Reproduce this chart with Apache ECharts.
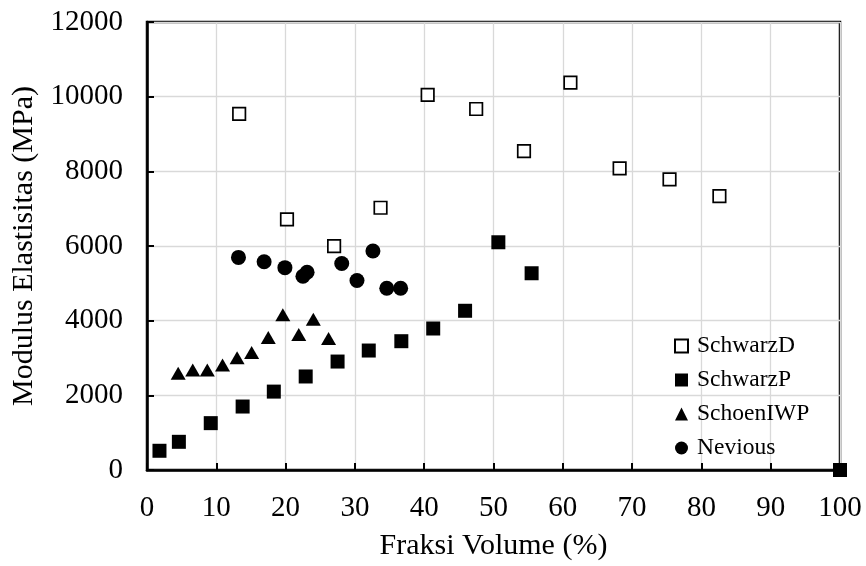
<!DOCTYPE html>
<html>
<head>
<meta charset="utf-8">
<script src="https://cdn.jsdelivr.net/npm/echarts@6/dist/echarts.min.js"></script>
<style>html,body{margin:0;padding:0;background:#fff}#c{width:866px;height:566px}</style>
</head>
<body>
<div id="c"></div>
<script>
var seriesNames = ['SchwarzD', 'SchwarzP', 'SchoenIWP', 'Nevious'];
var xTicks = [0, 10, 20, 30, 40, 50, 60, 70, 80, 90, 100];
var yTicks = [0, 2000, 4000, 6000, 8000, 10000, 12000];

var schwarzDX = [13.3, 20.2, 27.0, 33.7, 40.5, 47.5, 54.4, 61.1, 68.2, 75.4, 82.6];
var schwarzDY = [9540, 6715, 5995, 7025, 10050, 9670, 8540, 10375, 8080, 7785, 7335];

var schwarzPX = [1.8, 4.6, 9.2, 13.8, 18.3, 22.9, 27.5, 32.0, 36.7, 41.3, 45.9, 50.7, 55.5, 100];
var schwarzPY = [515, 755, 1255, 1700, 2100, 2505, 2905, 3200, 3450, 3790, 4265, 6100, 5270, 0];

var schoenX = [4.5, 6.6, 8.7, 10.9, 13.0, 15.1, 17.5, 19.6, 21.9, 24.0, 26.2];
var schoenY = [2590, 2680, 2680, 2810, 3005, 3150, 3550, 4160, 3630, 4040, 3520];

var neviousX = [13.2, 16.9, 19.9, 22.5, 23.1, 28.1, 30.3, 32.6, 34.6, 36.6];
var neviousY = [5695, 5580, 5420, 5190, 5295, 5530, 5075, 5865, 4870, 4870];

function pairs(xs, ys) { return xs.map(function (x, i) { return [x, ys[i]]; }); }

var FONT = '"Liberation Serif", "Times New Roman", serif';
var chart = echarts.init(document.getElementById('c'), null, { renderer: 'canvas' });

chart.setOption({
  animation: false,
  backgroundColor: '#fff',
  textStyle: { fontFamily: FONT, color: '#000' },
  grid: { left: 147, right: 26, top: 22, bottom: 94, show: true, borderColor: '#000', borderWidth: 2.5, backgroundColor: 'transparent' },
  legend: {
    data: seriesNames,
    orient: 'vertical',
    left: 674, top: 334, padding: 0,
    itemWidth: 13, itemHeight: 13, itemGap: 10,
    textStyle: { fontFamily: FONT, fontSize: 23.5, color: '#000', lineHeight: 23, padding: [0, 0, 0, 4] }
  },
  xAxis: {
    type: 'value', min: xTicks[0], max: xTicks[xTicks.length - 1], interval: 10,
    name: 'Fraksi Volume (%)', nameLocation: 'middle', nameGap: 61,
    nameTextStyle: { fontFamily: FONT, fontSize: 30, color: '#000' },
    axisLine: { show: true, lineStyle: { color: '#000', width: 2.5 } },
    axisTick: { show: true, inside: true, length: 7, lineStyle: { color: '#000', width: 2 } },
    axisLabel: { fontFamily: FONT, fontSize: 29, color: '#000', margin: 24 },
    splitLine: { show: true, lineStyle: { color: '#d9d9d9', width: 1.3 } }
  },
  yAxis: {
    type: 'value', min: yTicks[0], max: yTicks[yTicks.length - 1], interval: 2000,
    name: 'Modulus Elastisitas (MPa)', nameLocation: 'middle', nameGap: 93,
    nameTextStyle: { fontFamily: FONT, fontSize: 30, color: '#000' },
    axisLine: { show: true, lineStyle: { color: '#000', width: 2.5 } },
    axisTick: { show: true, inside: true, length: 7, lineStyle: { color: '#000', width: 2 } },
    axisLabel: { fontFamily: FONT, fontSize: 29, color: '#000', margin: 24, formatter: function (v) { return String(v); } },
    splitLine: { show: true, lineStyle: { color: '#d9d9d9', width: 1.3 } }
  },
  series: [
    { name: seriesNames[0], type: 'scatter', clip: false, symbol: 'rect', symbolSize: 12.5,
      itemStyle: { color: '#fff', borderColor: '#000', borderWidth: 1.7, opacity: 1 },
      data: pairs(schwarzDX, schwarzDY) },
    { name: seriesNames[1], type: 'scatter', clip: false, symbol: 'rect', symbolSize: 14,
      itemStyle: { color: '#000', opacity: 1 },
      data: pairs(schwarzPX, schwarzPY) },
    { name: seriesNames[2], type: 'scatter', clip: false, symbol: 'triangle', symbolSize: [15, 13],
      itemStyle: { color: '#000', opacity: 1 },
      data: pairs(schoenX, schoenY) },
    { name: seriesNames[3], type: 'scatter', clip: false, symbol: 'circle', symbolSize: 15,
      itemStyle: { color: '#000', opacity: 1 },
      data: pairs(neviousX, neviousY) }
  ]
});
</script>
</body>
</html>
